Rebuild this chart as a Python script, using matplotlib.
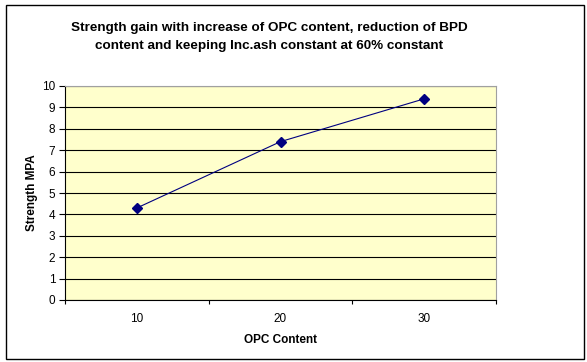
import matplotlib.pyplot as plt
from matplotlib.patches import Rectangle

plt.rcParams['font.family'] = ['Liberation Sans', 'DejaVu Sans']

opc_content = ['10', '20', '30']
strength = [4.3, 7.4, 9.4]

fig = plt.figure(figsize=(5.87, 3.62), dpi=100)
W, H = 587.0, 362.0

# outer chart frame
fig.patches.append(Rectangle((6 / W, 1 - 359 / H), 578 / W, 354 / H,
                             transform=fig.transFigure, fill=False,
                             edgecolor='black', linewidth=1))

ax = fig.add_axes([65 / W, 1 - 300 / H, 431 / W, 214 / H])
ax.set_facecolor('#FFFFCC')

pos = list(range(len(opc_content)))
ax.plot(pos, strength, color='#000080', linewidth=0.8, marker='D',
        markersize=5.5, markerfacecolor='#000080', markeredgecolor='#000080', zorder=3)

ax.set_xlim(-0.5, len(opc_content) - 0.5)
ax.set_ylim(0, 10)
ax.set_yticks(range(0, 11))
ax.yaxis.grid(True, color='black', linewidth=0.8)
ax.set_axisbelow(True)

# category axis: tick marks at boundaries, labels in the middle
ax.set_xticks([p - 0.5 for p in pos] + [pos[-1] + 0.5])
ax.set_xticklabels([])
ax.set_xticks(pos, minor=True)
ax.set_xticklabels(opc_content, minor=True)
ax.tick_params(axis='x', which='minor', length=0, pad=9, labelsize=8.5)
ax.tick_params(axis='x', which='major', length=3, direction='out', width=0.8)
ax.tick_params(axis='y', length=4, direction='out', width=0.8, labelsize=8.5, pad=3)

ax.spines['left'].set_color('black')
ax.spines['bottom'].set_color('black')
ax.spines['top'].set_color('#A0A0A0')
ax.spines['right'].set_color('#A0A0A0')
for s in ax.spines.values():
    s.set_linewidth(0.8)

ax.set_xlabel('OPC Content', fontsize=8.5, fontweight='bold', labelpad=7)
ax.set_ylabel('Strength MPA', fontsize=8.5, fontweight='bold', labelpad=3)

fig.text(269 / W, 1 - 37 / H,
         'Strength gain with increase of OPC content, reduction of BPD\n'
         'content and keeping Inc.ash constant at 60% constant',
         ha='center', va='center', fontsize=9.7, fontweight='bold', linespacing=1.65)

fig.savefig('out.png', dpi=100, facecolor='white')
